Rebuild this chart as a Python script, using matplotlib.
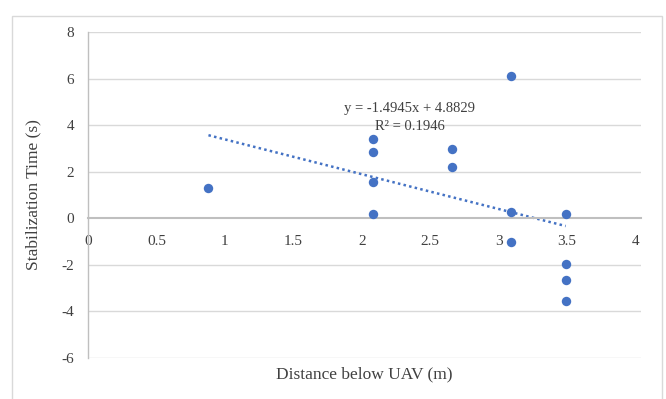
import matplotlib.pyplot as plt
from matplotlib.patches import Rectangle

# distance below UAV (m) and stabilization time (s)
distance = [0.88, 2.08, 2.08, 2.08, 2.08, 2.66, 2.66, 3.09, 3.09, 3.09,
            3.49, 3.49, 3.49, 3.49]
stab_time = [1.31, 3.40, 2.84, 1.56, 0.19, 2.97, 2.20, 6.10, 0.25, -1.00,
             0.18, -1.97, -2.64, -3.57]

# linear trendline as reported on the chart
slope = -1.4945
intercept = 4.8829
r_squared = 0.1946

x_ticks = [0, 0.5, 1, 1.5, 2, 2.5, 3, 3.5, 4]
y_ticks = [-6, -4, -2, 0, 2, 4, 6, 8]

blue = "#4472C4"
grey_text = "#404040"

plt.rcParams["font.family"] = ["Liberation Serif", "DejaVu Serif"]

fig = plt.figure(figsize=(6.66, 3.99), dpi=100)
fig.patches.append(Rectangle((12 / 666, -0.01), 650 / 666, 1 - 16 / 399 + 0.01,
                             transform=fig.transFigure, fill=False,
                             edgecolor="#D9D9D9", linewidth=1))

ax = fig.add_axes([88 / 666, 1 - 358 / 399, (641 - 88) / 666, (358 - 32) / 399])

for y in y_ticks:
    if y != 0:
        ax.axhline(y, color="#D9D9D9", linewidth=1, zorder=0)

ax.scatter(distance, stab_time, s=46, color=blue, zorder=3, linewidths=0)

x0, x1 = min(distance), max(distance)
ax.plot([x0, x1], [slope * x0 + intercept, slope * x1 + intercept],
        linestyle=(0, (1, 1.3)), color=blue, linewidth=1.8, zorder=2)

ax.text(2.35, 4.72, f"y = {slope}x + {intercept}", ha="center", va="center",
        fontsize=10.5, color=grey_text)
ax.text(2.35, 3.93, f"R² = {r_squared}", ha="center", va="center",
        fontsize=10.5, color=grey_text)

ax.set_xlim(0, 4.04)
ax.set_ylim(-6, 8)
ax.set_xticks(x_ticks)
ax.set_xticklabels([f"{t:g}" for t in x_ticks])
ax.set_yticks(y_ticks)
ax.set_yticklabels([f"{t:g}" for t in y_ticks])

ax.spines["top"].set_visible(False)
ax.spines["right"].set_visible(False)
ax.spines["bottom"].set_position(("data", 0))
ax.spines["bottom"].set_color("#BFBFBF")
ax.spines["bottom"].set_linewidth(1.5)
ax.spines["left"].set_color("#BFBFBF")
ax.spines["left"].set_linewidth(1)

ax.tick_params(axis="both", length=0, labelsize=11, labelcolor=grey_text)
ax.tick_params(axis="x", pad=12)
ax.tick_params(axis="y", pad=10)

ax.set_xlabel("Distance below UAV (m)", fontsize=12.5, color=grey_text)
ax.xaxis.set_label_coords(0.5, -0.025)
ax.set_ylabel("Stabilization Time (s)", fontsize=12.5, color=grey_text)
ax.yaxis.set_label_coords(-0.085, 0.5)

fig.savefig("out.png", dpi=100)
